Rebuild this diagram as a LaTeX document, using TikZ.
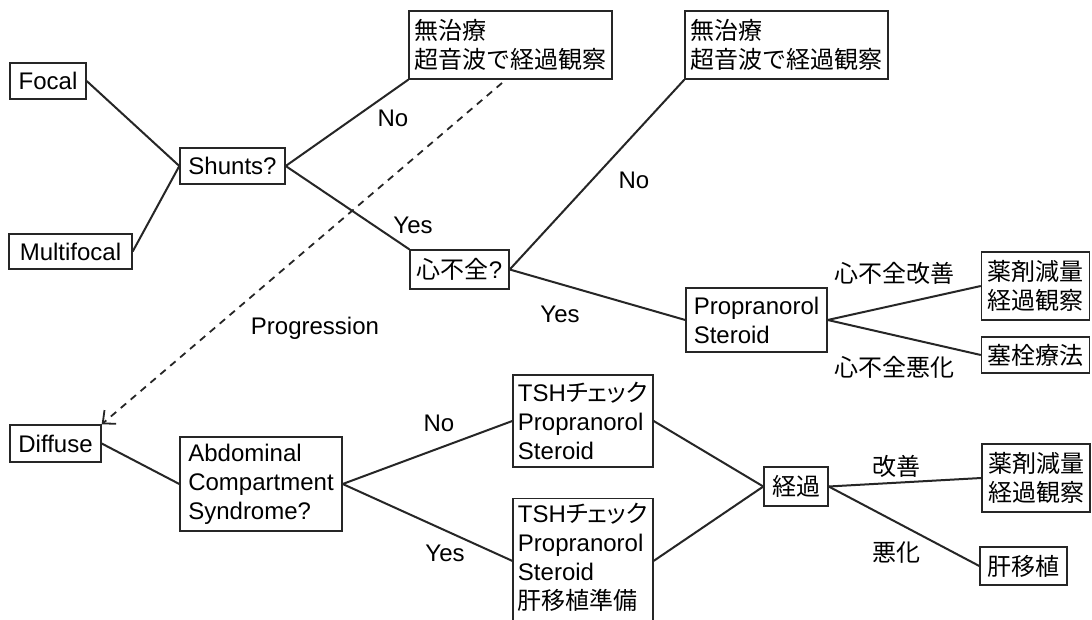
\documentclass[tikz,border=0pt]{standalone}
\usepackage{fontspec}
\setmainfont{Liberation Sans}
\newfontfamily\jp{Noto Sans CJK JP}[Scale=1.0]
\newfontfamily\jpk{Noto Sans CJK JP}[Scale=1.0,RawFeature=+palt]
\usetikzlibrary{arrows.meta,calc}
\begin{document}
\begin{tikzpicture}[x=0.5pt,y=-0.5pt,
  every node/.style={font=\fontsize{12}{14.5}\selectfont, text=black},
  box/.style={draw=black!85, line width=0.7pt, inner sep=0pt, align=left},
  conn/.style={draw=black!85, line width=1pt},
  prog/.style={draw=black!85, line width=0.9pt, dash pattern=on 3.5pt off 3pt, -{Straight Barb[length=5pt,width=9pt]}},
  lbl/.style={inner sep=0pt}]
\useasboundingbox (0,0) rectangle (1092,620);
\fill[white] (0,0) rectangle (1092,620);

% nodes
\node[box,minimum width=38pt,minimum height=18pt] (focal) at (48,81) {Focal};
\node[box,minimum width=61.5pt,minimum height=17.5pt] (multi) at (70.5,251.5) {Multifocal};
\node[box,minimum width=52.5pt,minimum height=18pt] (shunts) at (232.5,166) {Shunts?};
\node[box,minimum width=101.5pt,minimum height=34pt] (mu1) at (510.5,45) {{\jp 無治療}\\{\jp 超音波で経過観察}};
\node[box,minimum width=101.5pt,minimum height=34pt] (mu2) at (786.5,45) {{\jp 無治療}\\{\jp 超音波で経過観察}};
\node[box,minimum width=49.5pt,minimum height=19.5pt] (shin) at (459.5,269.5) {{\jp 心不全}?};
\node[box,minimum width=70.5pt,minimum height=32pt] (prop) at (756.5,320) {Propranorol\\Steroid};
\node[box,minimum width=54pt,minimum height=34pt] (yaku1) at (1035.5,286) {{\jp 薬剤減量}\\{\jp 経過観察}};
\node[box,minimum width=54pt,minimum height=18pt] (sokusen) at (1035.5,355) {{\jp 塞栓療法}};
\node[box,minimum width=45.5pt,minimum height=18.5pt] (diffuse) at (55.5,443.5) {Diffuse};
\node[box,minimum width=81pt,minimum height=47pt] (abd) at (261,484) {Abdominal\\Compartment\\Syndrome?};
\node[box,minimum width=70pt,minimum height=46pt] (tsh1) at (583,421) {TSH{\jpk チェック}\\Propranorol\\Steroid};
\node[box,minimum width=70pt,inner ysep=2pt,text depth=5pt,anchor=north] (tsh2) at (583,498) {TSH{\jpk チェック}\\Propranorol\\Steroid\\{\jp 肝移植準備}};
\node[box,minimum width=32pt,minimum height=19.5pt] (keika) at (796,486.5) {{\jp 経過}};
\node[box,minimum width=54pt,minimum height=34pt] (yaku2) at (1036,478) {{\jp 薬剤減量}\\{\jp 経過観察}};
\node[box,minimum width=43.5pt,minimum height=19pt] (kan) at (1023.5,566) {{\jp 肝移植}};

% labels
\node[lbl] (lno1) at (393,118) {No};
\node[lbl] (lyes1) at (413,225) {Yes};
\node[lbl] (lno2) at (634,180) {No};
\node[lbl] (lyes2) at (560,314) {Yes};
\node[lbl] (lkz1) at (894,273) {{\jp 心不全改善}};
\node[lbl] (lak1) at (894,367) {{\jp 心不全悪化}};
\node[lbl] (lprog) at (315,328) {Progression};
\node[lbl] (lno3) at (439,423) {No};
\node[lbl] (lyes3) at (445,553) {Yes};
\node[lbl] (lkz2) at (896,466) {{\jp 改善}};
\node[lbl] (lak2) at (896,553) {{\jp 悪化}};

% connectors
\draw[conn] (focal.east) -- (shunts.west);
\draw[conn] (multi.east) -- (shunts.west);
\draw[conn] (shunts.east) -- (mu1.south west);
\draw[conn] (shunts.east) -- (shin.north west);
\draw[conn] (shin.east) -- (mu2.south west);
\draw[conn] (shin.east) -- (prop.west);
\draw[conn] (prop.east) -- (yaku1.west);
\draw[conn] (prop.east) -- (sokusen.west);
\coordinate (prog0) at (502,83);
\draw[prog] (prog0) -- (diffuse.north east);
\draw[conn] (diffuse.east) -- (abd.west);
\draw[conn] (abd.east) -- (tsh1.west);
\draw[conn] (abd.east) -- (tsh2.west);
\draw[conn] (tsh1.east) -- (keika.west);
\draw[conn] (tsh2.east) -- (keika.west);
\draw[conn] (keika.east) -- (yaku2.west);
\draw[conn] (keika.east) -- (kan.west);
\end{tikzpicture}
\end{document}
